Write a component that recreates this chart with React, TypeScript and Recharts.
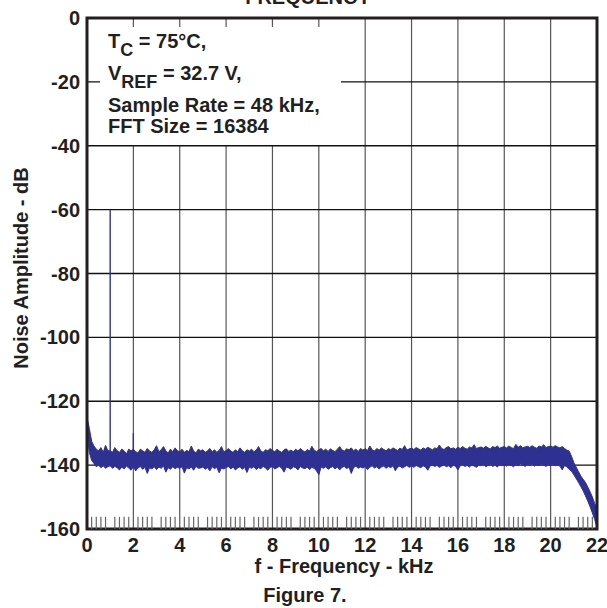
import React from "react";
import {
  ComposedChart,
  Area,
  Line,
  XAxis,
  YAxis,
  CartesianGrid,
  ReferenceLine,
  ReferenceArea,
} from "recharts";

const FREQ_STEP_KHZ = 0.1;

const BAND_HI_DB = [
  -125, -128.5, -132.5, -134, -135, -135.5, -134.5, -136, -133.8, -135.5,
  -135.5, -136, -134.5, -135.5, -136, -135, -135.5, -136.5, -135, -135.5,
  -135, -135.8, -136.2, -135, -135.5, -136, -134.8, -135.6, -136, -135.2,
  -133.9, -135.8, -135.2, -134.2, -135.5, -136.2, -135, -135.8, -134.6, -135.5,
  -135.8, -135, -136, -135.4, -135.8, -134, -135.6, -136.2, -135, -135.5,
  -135.2, -136, -135.5, -134.8, -135.8, -135.2, -136, -135.4, -134.2, -135.8,
  -135.5, -134.8, -135.6, -136, -135.2, -135.8, -134.6, -135.5, -136, -135.2,
  -135.6, -135, -135.8, -135.3, -134.2, -135.6, -136, -135.2, -135.5, -134.8,
  -135.4, -135.8, -135, -135.6, -136, -135.2, -134.9, -135.7, -135.3, -135.8,
  -135, -135.6, -134.8, -135.4, -135.9, -135.1, -135.6, -134.1, -135.3, -135.8,
  -135.2, -134.8, -135.5, -135, -135.7, -134.9, -135.4, -135.8, -135, -134.2,
  -135.3, -135.6, -134.9, -135.2, -134.6, -135.5, -135, -135.7, -134.8, -135.3,
  -134.9, -135.4, -134, -135.2, -135.6, -134.8, -135.3, -134.6, -135.1, -135.5,
  -134.8, -135.2, -134.6, -135, -135.4, -134.7, -135.1, -133.9, -135.3, -134.9,
  -134.7, -135.1, -134.5, -134.9, -135.3, -134.6, -135, -134.4, -134.8, -135.2,
  -134.6, -134.9, -133.7, -134.8, -135.1, -134.5, -134.2, -134.9, -134.6, -135,
  -134.4, -134.8, -134.2, -134.7, -135, -134.3, -134.6, -133.6, -134.8, -134.5,
  -134.3, -134.7, -134.1, -134.6, -134.9, -134.2, -134.5, -134, -134.7, -134.4,
  -134.2, -134.6, -134, -134.5, -134.8, -133.5, -134.4, -133.9, -134.6, -134.3,
  -134.1, -134.5, -133.9, -134.4, -134.7, -134, -134.3, -133.6, -134.5, -134.2,
  -134, -134.4, -133.9, -134.3, -134.6, -134.2, -134.8, -135.3, -135.6, -137.2,
  -139.2, -140.6, -142, -143.4, -144.4, -145.4, -146.8, -148.3, -150, -152,
  -153.5,
];

const BAND_LO_DB = [
  -130, -136, -138.5, -139.5, -140.5, -140, -140.8, -140.2, -141, -140.5,
  -140.2, -141, -140.4, -140.8, -141.5, -140.6, -141.2, -140.3, -140.9, -141.6,
  -140.5, -141.8, -140.9, -140.4, -141.3, -140.7, -142.6, -140.8, -141.2, -140.5,
  -141.4, -140.6, -141, -140.3, -142.2, -140.8, -141.3, -140.5, -141.1, -140.7,
  -141, -140.5, -142.5, -140.8, -141.2, -140.6, -141.6, -140.4, -141, -140.9,
  -140.6, -141.3, -140.8, -141.8, -140.5, -141.1, -140.7, -142.4, -140.9, -141.2,
  -140.8, -140.4, -141.2, -140.6, -141.5, -140.9, -140.5, -141.3, -140.7, -142.3,
  -140.6, -141, -140.5, -141.4, -140.8, -141.1, -140.4, -140.9, -141.6, -140.7,
  -140.5, -141.2, -140.8, -140.4, -141, -142.2, -140.6, -140.9, -141.3, -140.5,
  -140.8, -141.5, -140.4, -140.9, -141.1, -140.6, -141.4, -140.7, -141, -141.8,
  -143, -140.6, -141, -140.5, -141.3, -140.8, -140.4, -141.2, -140.6, -141.5,
  -140.7, -140.4, -141.1, -140.6, -142.6, -140.8, -140.3, -141, -140.6, -140.9,
  -140.5, -141.4, -140.7, -140.2, -140.9, -140.5, -141.2, -140.6, -140.3, -141,
  -140.4, -140.8, -140.2, -141.8, -140.6, -140.3, -140.9, -140.5, -140.1, -140.7,
  -140.3, -140.7, -140.1, -140.5, -140.8, -140.2, -140.6, -141.6, -140.3, -140,
  -140.4, -140.1, -140.7, -140.3, -139.9, -140.5, -140.2, -140.8, -140, -140.4,
  -141.5, -140.2, -139.8, -140.4, -140.1, -140.6, -139.9, -140.3, -140.7, -140,
  -140.2, -139.8, -140.5, -140.1, -139.7, -140.4, -140, -140.6, -139.8, -140.2,
  -139.9, -140.3, -139.7, -140.1, -140.5, -139.8, -140.2, -139.6, -140, -140.4,
  -139.8, -140.1, -139.6, -140.3, -139.9, -140.2, -139.7, -140, -140.4, -139.8,
  -140, -139.7, -140.2, -139.9, -140.3, -141.5, -140.1, -140.6, -141.3, -141.9,
  -143, -144.2, -145.4, -146.7, -148, -149.6, -151.2, -153, -155, -157,
  -159.5,
];

// harmonic spurs
const SPIKE_FREQS_KHZ = [1.0, 2.0];
const SPIKE_TOPS_DB = [-60, -130];
const SPIKE_BASE_DB = -137;

const X_TICKS = [0, 2, 4, 6, 8, 10, 12, 14, 16, 18, 20, 22];
const Y_TICKS = [0, -20, -40, -60, -80, -100, -120, -140, -160];

const TRACE = "#2E3192";
const INK = "#231F20";
const FONT = '"Liberation Sans", Arial, Helvetica, sans-serif';

const bandData = BAND_HI_DB.map((hi, i) => ({
  f: +(i * FREQ_STEP_KHZ).toFixed(2),
  band: [BAND_LO_DB[i], hi],
}));

const spikeData = SPIKE_FREQS_KHZ.map((f, i) => [
  { f, db: SPIKE_BASE_DB },
  { f, db: SPIKE_TOPS_DB[i] },
]);

// small ticks every 0.2 kHz along the bottom, skipping whole kHz
const minorTicks: number[] = [];
for (let k = 0; k < 22; k++) {
  for (let j = 1; j <= 4; j++) minorTicks.push(+(k + j * 0.2).toFixed(1));
}

const tickStyle = { fill: INK, fontSize: 20, fontWeight: 700, fontFamily: FONT };

const textBase: React.CSSProperties = {
  position: "absolute",
  fontFamily: FONT,
  fontWeight: 700,
  fontSize: 20,
  lineHeight: "20px",
  color: INK,
  whiteSpace: "nowrap",
};

const sub: React.CSSProperties = { fontSize: 18, position: "relative", top: 8 };

export default function App() {
  return (
    <div
      style={{
        position: "absolute",
        left: 0,
        top: 0,
        width: 607,
        height: 608,
        overflow: "hidden",
        background: "#fff",
      }}
    >
      <ComposedChart
        width={607}
        height={608}
        data={bandData}
        margin={{ top: 18, right: 10, bottom: 49, left: 27 }}
      >
        <CartesianGrid horizontal={false} stroke="#555" strokeWidth={1.2} />
        <CartesianGrid vertical={false} stroke="#111" strokeWidth={1.4} />
        <XAxis
          type="number"
          dataKey="f"
          domain={[0, 22]}
          ticks={X_TICKS}
          height={30}
          axisLine={false}
          tickLine={false}
          tickSize={0}
          tickMargin={9}
          tick={tickStyle}
          interval={0}
        />
        <YAxis
          type="number"
          domain={[-160, 0]}
          ticks={Y_TICKS}
          width={60}
          axisLine={false}
          tickLine={false}
          tickSize={0}
          tickMargin={7}
          tick={tickStyle}
          interval={0}
        />
        {minorTicks.map((f) => (
          <ReferenceLine
            key={f}
            segment={[
              { x: f, y: -160 },
              { x: f, y: -156.2 },
            ]}
            stroke="#666"
            strokeWidth={1.2}
          />
        ))}
        <Area
          type="linear"
          dataKey="band"
          stroke={TRACE}
          strokeWidth={1}
          fill={TRACE}
          fillOpacity={1}
          dot={false}
          activeDot={false}
          isAnimationActive={false}
        />
        {spikeData.map((d, i) => (
          <Line
            key={i}
            data={d}
            dataKey="db"
            type="linear"
            stroke={TRACE}
            strokeWidth={1.4}
            dot={false}
            activeDot={false}
            isAnimationActive={false}
          />
        ))}
        <ReferenceArea
          x1={0}
          x2={22}
          y1={-160}
          y2={0}
          fill="none"
          fillOpacity={0}
          stroke={INK}
          strokeWidth={3}
        />
      </ComposedChart>

      {/* conditions box, it hides the grid behind it */}
      <div
        style={{
          position: "absolute",
          left: 100,
          top: 27,
          width: 241,
          height: 118,
          background: "#fff",
        }}
      />
      <div style={{ ...textBase, left: 108, top: 31 }}>
        T<span style={sub}>C</span> = 75°C,
      </div>
      <div style={{ ...textBase, left: 108, top: 63 }}>
        V<span style={sub}>REF</span> = 32.7 V,
      </div>
      <div style={{ ...textBase, left: 108, top: 95 }}>Sample Rate = 48 kHz,</div>
      <div style={{ ...textBase, left: 108, top: 116 }}>FFT Size = 16384</div>

      <div style={{ ...textBase, left: 208, top: -13, width: 200, textAlign: "center" }}>
        FREQUENCY
      </div>
      <div style={{ ...textBase, left: 244, top: 556, width: 200, textAlign: "center" }}>
        f - Frequency - kHz
      </div>
      <div style={{ ...textBase, left: 205, top: 585, width: 200, textAlign: "center" }}>
        Figure 7.
      </div>
      <div
        style={{
          ...textBase,
          left: 21 - 150,
          top: 268 - 10,
          width: 300,
          textAlign: "center",
          transform: "rotate(-90deg)",
        }}
      >
        Noise Amplitude - dB
      </div>
    </div>
  );
}
